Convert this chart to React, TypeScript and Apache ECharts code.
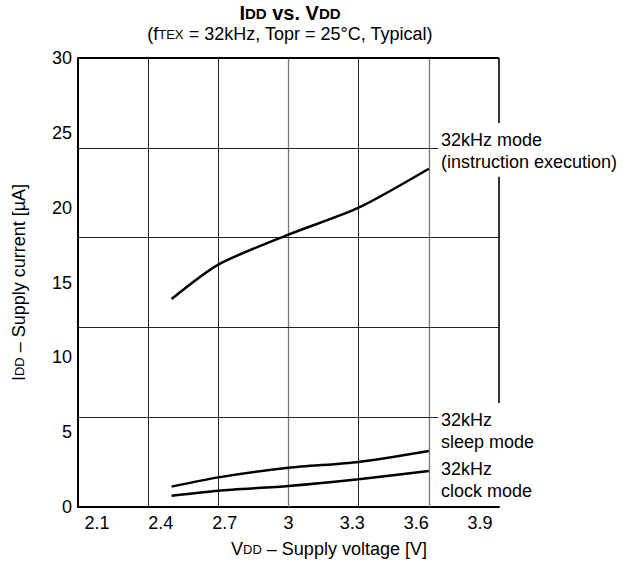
import React, { useEffect, useRef } from "react";
import * as echarts from "echarts";

const FONT = "'Liberation Sans', Arial, Helvetica, sans-serif";

// Supply voltage [V] of the measured points
const voltages = [2.5, 2.7, 3.0, 3.3, 3.6];
// Supply current [µA]
const instructionMode = [13.9, 16.2, 18.2, 20.0, 22.6];
const sleepMode = [1.36, 1.98, 2.62, 3.01, 3.74];
const clockMode = [0.75, 1.09, 1.4, 1.85, 2.41];

const xTickLabels = ["2.1", "2.4", "2.7", "3", "3.3", "3.6", "3.9"];
const yMin = 0;
const yMax = 30;
const yStep = 5;
const xMin = 2.1;
const xMax = 3.9;

// grid (rule) lines of the original sheet
const gridVoltages = [2.4, 2.7, 3.0, 3.3, 3.6];
const gridCurrentsFull = [12, 18];
const gridCurrentsLeader = [6, 24];
const leaderEnd = 3.64;
const rightFrameSegments = [
  [30, 25.66],
  [22.06, 6.95],
];

const seriesNames = ["32kHz mode (instruction execution)", "32kHz sleep mode", "32kHz clock mode"];

export default function App() {
  const ref = useRef<HTMLDivElement>(null);
  useEffect(() => {
    if (!ref.current) return;
    const chart = echarts.init(ref.current, undefined, { renderer: "svg" });
    const toPairs = (vals: number[]) => voltages.map((v, i) => [v, vals[i]]);

    const marks: any[] = [];
    gridVoltages.forEach((v) => {
      const gray = v === 3.0 || v === 3.6;
      marks.push([
        { coord: [v, yMin], lineStyle: { color: gray ? "#777" : "#222", width: gray ? 1.3 : 1 } },
        { coord: [v, yMax] },
      ]);
    });
    gridCurrentsFull.forEach((c) => {
      marks.push([{ coord: [xMin, c] }, { coord: [xMax, c] }]);
    });
    gridCurrentsLeader.forEach((c) => {
      marks.push([{ coord: [xMin, c] }, { coord: [leaderEnd, c] }]);
    });
    marks.push([
      { coord: [xMin, yMax], lineStyle: { color: "#000", width: 2 } },
      { coord: [xMax, yMax] },
    ]);
    rightFrameSegments.forEach(([a, b]) => {
      marks.push([
        { coord: [xMax, a], lineStyle: { color: "#000", width: 1.6 } },
        { coord: [xMax, b] },
      ]);
    });

    const curveStyle = { color: "#000", width: 2.5 };
    const option: any = {
      animation: false,
      backgroundColor: "#fff",
      textStyle: { fontFamily: FONT, color: "#000" },
      grid: [
        { left: 78, right: 129, top: 58, bottom: 59 },
        { left: 97, right: 148, top: 58, bottom: 59 },
      ],
      xAxis: [
        {
          gridIndex: 0,
          type: "value",
          min: xMin,
          max: xMax,
          axisLine: { show: true, lineStyle: { color: "#000", width: 2 } },
          axisTick: { show: false },
          axisLabel: { show: false },
          splitLine: { show: false },
          name: "{a|V}{b|DD}{a| – Supply voltage [V]}",
          nameLocation: "middle",
          nameGap: 33,
          nameTextStyle: {
            padding: [0, 0, 0, 81],
            rich: {
              a: { fontSize: 18, fontFamily: FONT, color: "#000" },
              b: { fontSize: 13, fontFamily: FONT, color: "#000" },
            },
          },
        },
        {
          gridIndex: 1,
          type: "category",
          data: xTickLabels,
          boundaryGap: false,
          axisLine: { show: false },
          axisTick: { show: false },
          splitLine: { show: false },
          axisLabel: { interval: 0, color: "#000", fontSize: 18, fontFamily: FONT, margin: 7 },
        },
      ],
      yAxis: [
        {
          gridIndex: 0,
          type: "value",
          min: yMin,
          max: yMax,
          interval: yStep,
          axisLine: { show: true, lineStyle: { color: "#000", width: 2 } },
          axisTick: { show: false },
          axisLabel: { color: "#000", fontSize: 18, fontFamily: FONT, margin: 6 },
          splitLine: { show: false },
          name: "{a|I}{b|DD}{a| – Supply current [µA]}",
          nameLocation: "middle",
          nameGap: 50,
          nameTextStyle: {
            rich: {
              a: { fontSize: 18, fontFamily: FONT, color: "#000" },
              b: { fontSize: 13, fontFamily: FONT, color: "#000" },
            },
          },
        },
        { gridIndex: 1, type: "value", show: false, min: yMin, max: yMax },
      ],
      series: [
        {
          name: seriesNames[0],
          type: "line",
          data: toPairs(instructionMode),
          smooth: 0.25,
          showSymbol: false,
          symbol: "none",
          lineStyle: curveStyle,
          z: 5,
          markLine: {
            silent: true,
            symbol: "none",
            label: { show: false },
            lineStyle: { color: "#222", width: 1, type: "solid" },
            data: marks,
            z: 1,
          },
        },
        {
          name: seriesNames[1],
          type: "line",
          data: toPairs(sleepMode),
          smooth: 0.25,
          symbol: "none",
          lineStyle: curveStyle,
          z: 5,
        },
        {
          name: seriesNames[2],
          type: "line",
          data: toPairs(clockMode),
          smooth: 0.25,
          symbol: "none",
          lineStyle: curveStyle,
          z: 5,
        },
      ],
      graphic: [
        {
          type: "text",
          x: 290,
          y: 13,
          style: {
            text: "{a|I}{b|DD}{a| vs. V}{b|DD}",
            textAlign: "center",
            textVerticalAlign: "middle",
            fill: "#000",
            rich: {
              a: { fontSize: 20, lineHeight: 20, fontWeight: "bold", fontFamily: FONT, fill: "#000" },
              b: { fontSize: 15, lineHeight: 20, fontWeight: "bold", fontFamily: FONT, fill: "#000" },
            },
          },
        },
        {
          type: "text",
          x: 290,
          y: 34,
          style: {
            text: "{n|(f}{s|TEX}{n| = 32kHz, Topr = 25°C, Typical)}",
            textAlign: "center",
            textVerticalAlign: "middle",
            fill: "#000",
            rich: {
              n: { fontSize: 18, lineHeight: 19, fontFamily: FONT, fill: "#000" },
              s: { fontSize: 13, lineHeight: 19, fontFamily: FONT, fill: "#000" },
            },
          },
        },
        {
          type: "text",
          x: 441,
          y: 129,
          style: {
            text: "32kHz mode\n(instruction execution)",
            fontSize: 18,
            fontFamily: FONT,
            lineHeight: 22,
            fill: "#000",
            textVerticalAlign: "top",
          },
        },
        {
          type: "text",
          x: 441,
          y: 409,
          style: {
            text: "32kHz\nsleep mode",
            fontSize: 18,
            fontFamily: FONT,
            lineHeight: 22,
            fill: "#000",
            textVerticalAlign: "top",
          },
        },
        {
          type: "text",
          x: 441,
          y: 458,
          style: {
            text: "32kHz\nclock mode",
            fontSize: 18,
            fontFamily: FONT,
            lineHeight: 22,
            fill: "#000",
            textVerticalAlign: "top",
          },
        },
      ],
    };
    chart.setOption(option);
    return () => chart.dispose();
  }, []);
  return (
    <div
      ref={ref}
      style={{ position: "absolute", left: 0, top: 0, width: 628, height: 566, background: "#fff" }}
    />
  );
}
